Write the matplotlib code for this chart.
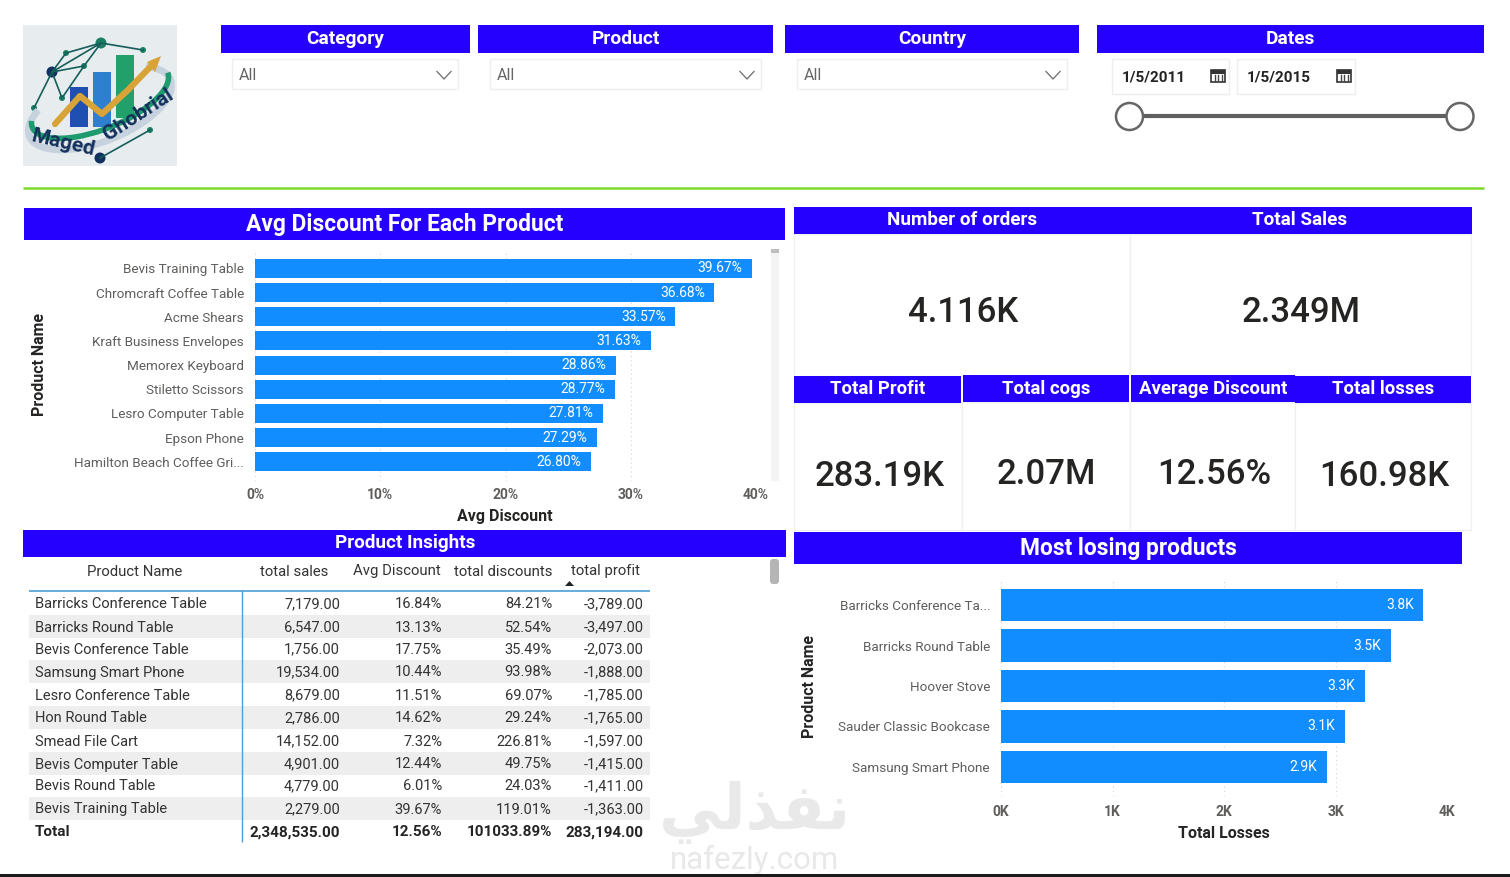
"""Sales dashboard rebuilt with plain matplotlib; layout is in reference pixels."""
import matplotlib

matplotlib.use("Agg")
import matplotlib.pyplot as plt
from matplotlib.patches import Arc, Circle, FancyBboxPatch, Polygon, Rectangle
from matplotlib.ticker import FuncFormatter

W, H = 1510, 877
BLUE = "#2600FF"
BAR = "#118DFF"
HEAD_FONT = ["Roboto", "DejaVu Sans"]
BODY_FONT = ["Roboto", "DejaVu Sans"]

# slicers
slicer_titles = ["Category", "Product", "Country", "Dates"]
slicer_value = "All"
date_from = "1/5/2011"
date_to = "1/5/2015"

# avg discount chart
disc_products = [
    "Bevis Training Table", "Chromcraft Coffee Table", "Acme Shears",
    "Kraft Business Envelopes", "Memorex Keyboard", "Stiletto Scissors",
    "Lesro Computer Table", "Epson Phone", "Hamilton Beach Coffee Gri...",
]
disc_values = [39.67, 36.68, 33.57, 31.63, 28.86, 28.77, 27.81, 27.29, 26.80]
disc_ticks = [0, 10, 20, 30, 40]

# losses chart
loss_products = [
    "Barricks Conference Ta...", "Barricks Round Table", "Hoover Stove",
    "Sauder Classic Bookcase", "Samsung Smart Phone",
]
loss_values = [3789, 3497, 3265, 3085, 2920]
loss_labels = ["3.8K", "3.5K", "3.3K", "3.1K", "2.9K"]
loss_ticks = [0, 1000, 2000, 3000, 4000]

# kpi cards
kpi_titles = ["Number of orders", "Total Sales", "Total Profit", "Total cogs",
              "Average Discount", "Total losses"]
kpi_values = ["4.116K", "2.349M", "283.19K", "2.07M", "12.56%", "160.98K"]

# table
table_head = ["Product Name", "total sales", "Avg Discount", "total discounts", "total profit"]
table_names = [
    "Barricks Conference Table", "Barricks Round Table", "Bevis Conference Table",
    "Samsung Smart Phone", "Lesro Conference Table", "Hon Round Table",
    "Smead File Cart", "Bevis Computer Table", "Bevis Round Table", "Bevis Training Table",
]
table_sales = ["7,179.00", "6,547.00", "1,756.00", "19,534.00", "8,679.00",
               "2,786.00", "14,152.00", "4,901.00", "4,779.00", "2,279.00"]
table_avg = ["16.84%", "13.13%", "17.75%", "10.44%", "11.51%",
             "14.62%", "7.32%", "12.44%", "6.01%", "39.67%"]
table_disc = ["84.21%", "52.54%", "35.49%", "93.98%", "69.07%",
              "29.24%", "226.81%", "49.75%", "24.03%", "119.01%"]
table_profit = ["-3,789.00", "-3,497.00", "-2,073.00", "-1,888.00", "-1,785.00",
                "-1,765.00", "-1,597.00", "-1,415.00", "-1,411.00", "-1,363.00"]
table_total = ["Total", "2,348,535.00", "12.56%", "101033.89%", "283,194.00"]


def px_axes(fig, x0, y0, x1, y1):
    """Axes placed by pixel box, y counted from the top of the picture."""
    return fig.add_axes([x0 / W, 1 - y1 / H, (x1 - x0) / W, (y1 - y0) / H])


def header(bg, x0, y0, x1, y1, text, size, cx=None):
    bg.add_patch(Rectangle((x0, y0), x1 - x0, y1 - y0, fc=BLUE, ec="none"))
    cx = (x0 + x1) / 2 if cx is None else cx
    bg.text(cx, (y0 + y1) / 2, text, color="white", fontsize=size, fontweight="bold",
            family=HEAD_FONT, ha="center", va="center")


def card(bg, x0, y0, x1, y1):
    bg.add_patch(Rectangle((x0, y0), x1 - x0, y1 - y0, fc="white", ec="#f0f0f0", lw=1))


def bar_chart(fig, box, xlim, ylim, names, values, labels, ticks, tick_fmt, height, lab_off):
    ax = px_axes(fig, *box)
    ax.patch.set_alpha(0)
    pos = list(range(len(names)))
    ax.barh(pos, values, height=height, color=BAR, zorder=3)
    ax.set_xlim(*xlim)
    ax.set_ylim(*ylim)
    ax.set_yticks(pos, names, fontsize=9.7, color="#605e5c", family=BODY_FONT)
    ax.set_xticks(ticks)
    ax.xaxis.set_major_formatter(FuncFormatter(tick_fmt))
    ax.tick_params(length=0)
    ax.tick_params(axis="y", pad=8)
    ax.tick_params(axis="x", pad=lab_off)
    for t in ax.get_xticklabels():
        t.set(fontsize=10, fontweight="bold", color="#605e5c", family=BODY_FONT)
    ax.grid(axis="x", color="#d4d4d4", ls=(0, (1, 3)), lw=0.8, zorder=0)
    for s in ax.spines.values():
        s.set_visible(False)
    for p, v, lab in zip(pos, values, labels):
        ax.annotate(lab, (v, p), xytext=(-7, 0), textcoords="offset points", ha="right",
                    va="center", color="white", fontsize=10, family=BODY_FONT, zorder=4)
    return ax


def draw_logo(bg):
    bg.add_patch(Rectangle((23, 25), 154, 141, fc="#e7ecef", ec="none"))
    # bars behind the arrow
    for x, top, bottom, c in [(70, 87, 127, "#1f4fb0"), (93, 72, 127, "#2f7fd0"), (116, 55, 118, "#22a06b")]:
        bg.add_patch(Rectangle((x, top), 18, bottom - top, fc=c, ec="none"))
    # network
    nodes = [(101, 43), (52, 72), (84, 66), (66, 53), (62, 98), (34, 108), (143, 50), (100, 158), (150, 130)]
    links = [(0, 1), (0, 2), (0, 3), (1, 2), (1, 4), (1, 5), (3, 1), (2, 4), (0, 6), (7, 8)]
    for a, b in links:
        bg.plot([nodes[a][0], nodes[b][0]], [nodes[a][1], nodes[b][1]], color="#155e5a", lw=1.2)
    for i, (x, y) in enumerate(nodes):
        bg.add_patch(Circle((x, y), 5.5 if i in (0, 1, 7) else 3,
                            fc="#12305e" if i in (1, 7) else "#1b7f63", ec="none"))
    # ring around the logo
    bg.add_patch(Arc((100, 108), 152, 66, angle=-22, theta1=-20, theta2=200, color="#c6d2de", lw=5))
    bg.add_patch(Arc((100, 100), 146, 58, angle=-22, theta1=0, theta2=185, color="#1f9c6f", lw=4))
    # gold arrow
    bg.plot([55, 80, 102, 128, 155], [124, 96, 114, 90, 62], color="#d9a437", lw=4.5, solid_capstyle="round")
    bg.add_patch(Polygon([(147, 62), (161, 56), (155, 72)], fc="#d9a437", ec="none"))
    bg.text(63, 143, "Maged", fontsize=15, fontweight="bold", color="#14305c", family="Roboto",
            rotation=-13, ha="center", va="center")
    bg.text(138, 115, "Ghobrial", fontsize=15, fontweight="bold", color="#14305c", family="Roboto",
            rotation=33, ha="center", va="center")


def main():
    fig = plt.figure(figsize=(W / 100, H / 100), dpi=100, facecolor="white")
    bg = fig.add_axes([0, 0, 1, 1])
    bg.set_xlim(0, W)
    bg.set_ylim(H, 0)
    bg.axis("off")

    draw_logo(bg)

    # slicers
    slicer_boxes = [(221, 470), (478, 773), (785, 1079), (1097, 1484)]
    for (x0, x1), title in zip(slicer_boxes, slicer_titles):
        header(bg, x0, 25, x1, 53, title, 13.8)
    for x0, x1 in [(232, 458), (490, 761), (797, 1067)]:
        bg.add_patch(Rectangle((x0, 59), x1 - x0, 30, fc="white", ec="#eeeeee", lw=1))
        bg.text(x0 + 7, 76, slicer_value, fontsize=11.5, color="#666666", family=BODY_FONT, va="center")
        cx = x1 - 14
        bg.plot([cx - 7, cx, cx + 7], [71.5, 79, 71.5], color="#777777", lw=1)
    for x0, x1, label in [(1112, 1229, date_from), (1237, 1355, date_to)]:
        bg.add_patch(Rectangle((x0, 59), x1 - x0, 35, fc="white", ec="#eeeeee", lw=1))
        bg.text(x0 + 10, 78, label, fontsize=11, color="#252423", fontweight="bold",
                family=BODY_FONT, va="center")
        ix = x1 - 11
        bg.add_patch(Rectangle((ix - 7, 70), 14, 12, fc="white", ec="#333333", lw=1.2))
        bg.add_patch(Rectangle((ix - 7, 70), 14, 3.5, fc="#333333", ec="none"))
        for dx in (-3.5, 0, 3.5):
            bg.plot([ix + dx, ix + dx], [75, 81], color="#444444", lw=1)
    bg.plot([1129, 1460], [116, 116], color="#5f5f5f", lw=3, solid_capstyle="butt")
    for cx in (1129.5, 1460):
        bg.add_patch(Circle((cx, 116.5), 13.5, fc="white", ec="#666666", lw=1.8, zorder=3))

    bg.plot([23, 1484], [187.5, 187.5], color="#7FD82E", lw=1.8, solid_capstyle="butt")

    # kpi cards
    for x0, y0, x1, y1 in [(794, 234, 1130, 376), (1130, 234, 1471, 376), (794, 403, 962, 530),
                           (962, 402, 1130, 530), (1130, 402, 1295, 530), (1295, 403, 1471, 530)]:
        card(bg, x0, y0, x1, y1)
    header(bg, 794, 207, 1472, 234, "", 14)
    bg.text(962, 220, kpi_titles[0], color="white", fontsize=13.6, fontweight="bold",
            family=HEAD_FONT, ha="center", va="center")
    bg.text(1300, 220, kpi_titles[1], color="white", fontsize=13.6, fontweight="bold",
            family=HEAD_FONT, ha="center", va="center")
    kpi_heads = [(794, 376, 961, 403), (963, 375, 1129, 402), (1131, 375, 1295, 402), (1295, 376, 1471, 403)]
    for box, title in zip(kpi_heads, kpi_titles[2:]):
        header(bg, *box, title, 13.4)
    kpi_pos = [(963, 313), (1301, 313), (880, 476), (1046, 474), (1214, 474), (1384, 476)]
    for (x, y), val in zip(kpi_pos, kpi_values):
        bg.text(x, y, val, fontsize=25, fontweight="medium", color="#252423", family=BODY_FONT,
                ha="center", va="center")

    # section headers
    header(bg, 24, 208, 785, 240, "Avg Discount For Each Product", 16.4, cx=405)
    header(bg, 23, 530, 786, 557, "Product Insights", 13.6, cx=405)
    header(bg, 794, 532, 1462, 564, "Most losing products", 16.4, cx=1128)

    # scroll bars
    bg.add_patch(Rectangle((771, 249), 8, 232, fc="#f3f3f3", ec="none"))
    bg.add_patch(Rectangle((771, 249), 8, 4, fc="#bdbdbd", ec="none"))
    bg.add_patch(FancyBboxPatch((773, 562), 3, 19, boxstyle="round,pad=3", fc="#b5b5b5", ec="none"))

    # bar charts
    bar_chart(fig, (255, 250.5, 756, 481.5), (0, 40), (8.82, -0.745), disc_products, disc_values,
              [f"{v:.2f}%" for v in disc_values], disc_ticks, lambda v, _: f"{v:.0f}%", 0.79, 5)
    bg.text(505, 516, "Avg Discount", fontsize=11.5, fontweight="bold", color="#252423",
            family=HEAD_FONT, ha="center", va="center")
    bg.text(40, 365, "Product Name", fontsize=11.5, fontweight="bold", color="#252423",
            family=BODY_FONT, rotation=90, ha="center", va="center")

    bar_chart(fig, (1001, 580, 1447, 796), (0, 4000), (4.72, -0.62), loss_products, loss_values,
              loss_labels, loss_ticks, lambda v, _: f"{v / 1000:.0f}K", 0.795, 6.5)
    bg.text(1224, 833, "Total Losses", fontsize=11.5, fontweight="bold", color="#252423",
            family=HEAD_FONT, ha="center", va="center")
    bg.text(810, 686, "Product Name", fontsize=11.5, fontweight="bold", color="#252423",
            family=BODY_FONT, rotation=90, ha="center", va="center")

    # table
    row_y = [603, 626, 648, 671, 694, 717, 740, 763, 785, 808]
    right_x = [340, 442, 552, 644]
    head_x = [(135, "center"), (328, "right"), (441, "right"), (552, "right"), (640, "right")]
    for (x, ha), label in zip(head_x, table_head):
        bg.text(x, 570, label, fontsize=10.7, color="#333333", family=BODY_FONT, ha=ha, va="center_baseline")
    bg.add_patch(Polygon([(565, 586), (574, 586), (569.5, 581)], fc="#222222", ec="none"))
    for i, y in enumerate(row_y):
        if i % 2 == 1:
            bg.add_patch(Rectangle((29, y - 11.5), 621, 23, fc="#eeeeee", ec="none", zorder=0))
        bg.text(35, y, table_names[i], fontsize=10.5, color="#333333", family=BODY_FONT, va="center_baseline")
        cols = (table_sales[i], table_avg[i], table_disc[i], table_profit[i])
        for x, val in zip(right_x, cols):
            bg.text(x, y, val, fontsize=10.5, color="#333333", family=BODY_FONT, ha="right", va="center_baseline")
    bg.text(35, 831, table_total[0], fontsize=11, fontweight="bold", color="#252423",
            family=BODY_FONT, va="center_baseline")
    for x, val in zip(right_x, table_total[1:]):
        bg.text(x, 831, val, fontsize=11, fontweight="bold", color="#252423",
                family=BODY_FONT, ha="right", va="center_baseline")
    bg.plot([29, 650], [590.5, 590.5], color="#4d9fd6", lw=1.2, solid_capstyle="butt")
    bg.plot([241.5, 241.5], [590, 842], color="#4d9fd6", lw=1, solid_capstyle="butt")

    # watermark, glyphs in visual order because matplotlib does no shaping
    bg.text(755, 812, "\ufef2\ufedf\ufeac\ufed4\ufee7", fontsize=45, fontweight="bold", color="#e9e9e9",
            family="DejaVu Sans", ha="center", va="center", zorder=1)
    bg.text(755, 860, "nafezly.com", fontsize=22.5, color="#e8e8e8", family="Roboto",
            ha="center", va="center", zorder=1)

    # bottom edge of the screenshot
    bg.add_patch(Rectangle((0, 874), W, 3, fc="#1a1a1a", ec="none"))

    fig.savefig("out.png", dpi=100)


if __name__ == "__main__":
    main()
